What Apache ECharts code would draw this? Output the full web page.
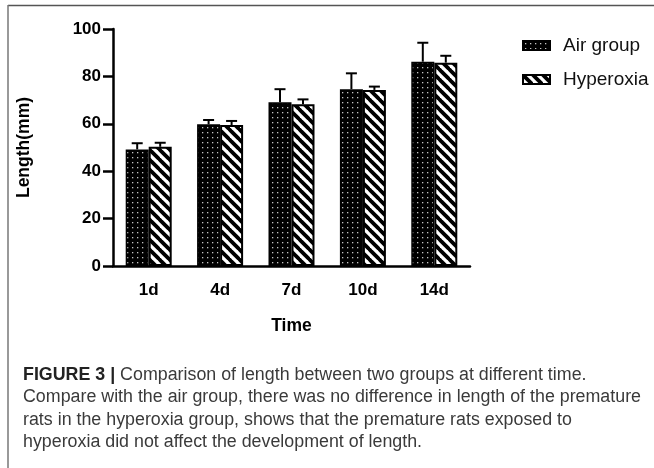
<!DOCTYPE html>
<html>
<head>
<meta charset="utf-8">
<script src="https://cdn.jsdelivr.net/npm/echarts@6/dist/echarts.min.js"></script>
<style>
html,body{margin:0;padding:0;background:#fff;}
#chart{width:654px;height:468px;}
</style>
</head>
<body>
<div id="chart"></div>
<script>
// ---- data ----
const categories = ['1d', '4d', '7d', '10d', '14d'];
const airMean = [49.2, 59.8, 69.1, 74.6, 86.2];
const airSD = [2.6, 1.8, 5.5, 6.7, 8.0];
const hyperMean = [50.3, 59.5, 68.2, 74.3, 85.8];
const hyperSD = [1.7, 1.7, 2.1, 1.4, 2.9];
const seriesNames = ['Air group', 'Hyperoxia'];
const yTicks = { min: 0, max: 100, interval: 20 };
const captionLines = [
  'Comparison of length between two groups at different time.',
  'Compare with the air group, there was no difference in length of the premature',
  'rats in the hyperoxia group, shows that the premature rats exposed to',
  'hyperoxia did not affect the development of length.'
];
const captionLabel = 'FIGURE 3 |';

// ---- patterns ----
function dotPattern() {
  const c = document.createElement('canvas');
  c.width = 5; c.height = 5;
  const g = c.getContext('2d');
  g.fillStyle = '#000'; g.fillRect(0, 0, 5, 5);
  g.fillStyle = '#c4c4c4'; g.fillRect(2, 2, 1.3, 1.3);
  return c;
}
function stripePattern() {
  const P = 10;
  const c = document.createElement('canvas');
  c.width = P; c.height = P;
  const g = c.getContext('2d');
  g.fillStyle = '#fff'; g.fillRect(0, 0, P, P);
  g.strokeStyle = '#000'; g.lineWidth = 3.8;
  for (let k = -1; k <= 1; k++) {
    g.beginPath(); g.moveTo(k * P - 1, -1); g.lineTo(k * P + P + 1, P + 1); g.stroke();
  }
  return c;
}
const airFill = { image: dotPattern(), repeat: 'repeat' };
const hyperFill = { image: stripePattern(), repeat: 'repeat' };

const BAR_W = 23;
const FONT = '"Liberation Sans", Arial, Helvetica, sans-serif';
const CAP_FS = 18;

function errData(mean, sd) {
  return mean.map((m, i) => [i, m, m + sd[i]]);
}
function errRender(offset) {
  return function (params, api) {
    const top = api.coord([api.value(0), api.value(1)]);
    const hi = api.coord([api.value(0), api.value(2)]);
    const x = top[0] + offset;
    const half = 5.5;
    return {
      type: 'group',
      children: [
        { type: 'line', shape: { x1: x, y1: top[1], x2: x, y2: hi[1] }, style: { stroke: '#000', lineWidth: 2 } },
        { type: 'line', shape: { x1: x - half, y1: hi[1], x2: x + half, y2: hi[1] }, style: { stroke: '#000', lineWidth: 2 } }
      ]
    };
  };
}

// caption scale computed from measured text width
const meas = document.createElement('canvas').getContext('2d');
meas.font = CAP_FS + 'px ' + FONT;
const capScale = 618 / meas.measureText(captionLines[1]).width;

const capY0 = 375, capDY = 22.5;
const captionGraphics = captionLines.map((t, i) => ({
  type: 'text',
  x: 23, y: capY0 + i * capDY,
  scaleX: capScale,
  style: i === 0 ? {
    text: '{b|' + captionLabel + '} ' + t,
    rich: { b: { font: 'bold ' + CAP_FS + 'px ' + FONT, fill: '#222' } },
    font: CAP_FS + 'px ' + FONT, fill: '#3a3a3a', verticalAlign: 'middle'
  } : {
    text: t, font: CAP_FS + 'px ' + FONT, fill: '#3a3a3a', verticalAlign: 'middle'
  }
}));

const chart = echarts.init(document.getElementById('chart'), null, { renderer: 'canvas' });
chart.setOption({
  animation: false,
  backgroundColor: '#fff',
  textStyle: { fontFamily: FONT },
  grid: { left: 113, right: 184, top: 29, bottom: 202, containLabel: false },
  legend: {
    orient: 'vertical',
    left: 517, top: 31,
    itemWidth: 27, itemHeight: 9,
    itemGap: 15,
    icon: 'rect',
    textStyle: { fontSize: 19, color: '#111', padding: [0, 0, 0, 8], fontFamily: FONT },
    data: seriesNames
  },
  xAxis: {
    type: 'category',
    data: categories,
    name: 'Time',
    nameLocation: 'middle',
    nameGap: 51,
    nameTextStyle: { fontSize: 17.5, fontWeight: 'bold', color: '#000' },
    axisLine: { lineStyle: { color: '#000', width: 2.5 } },
    axisTick: { alignWithLabel: true, length: 9, lineStyle: { color: '#000', width: 2.5 } },
    axisLabel: { fontSize: 17, fontWeight: 'bold', color: '#000', margin: 16 }
  },
  yAxis: {
    type: 'value',
    min: yTicks.min, max: yTicks.max, interval: yTicks.interval,
    name: 'Length(mm)',
    nameLocation: 'middle',
    nameGap: 80,
    nameTextStyle: { fontSize: 17.5, fontWeight: 'bold', color: '#000' },
    axisLine: { show: true, lineStyle: { color: '#000', width: 2.5 } },
    axisTick: { show: true, length: 10, lineStyle: { color: '#000', width: 2.5 } },
    axisLabel: { fontSize: 17, fontWeight: 'bold', color: '#000', margin: 12 },
    splitLine: { show: false }
  },
  series: [
    {
      name: seriesNames[0], type: 'bar', data: airMean,
      barWidth: BAR_W, barGap: '0%',
      itemStyle: { color: airFill, borderColor: '#000', borderWidth: 1.5 },
      z: 2
    },
    {
      name: seriesNames[1], type: 'bar', data: hyperMean,
      barWidth: BAR_W, barGap: '0%',
      itemStyle: { color: hyperFill, borderColor: '#000', borderWidth: 2 },
      z: 2
    },
    {
      type: 'custom', name: 'airErr', data: errData(airMean, airSD),
      encode: { x: 0, y: [1, 2] }, renderItem: errRender(-BAR_W / 2), z: 3, silent: true
    },
    {
      type: 'custom', name: 'hyperErr', data: errData(hyperMean, hyperSD),
      encode: { x: 0, y: [1, 2] }, renderItem: errRender(BAR_W / 2), z: 3, silent: true
    }
  ],
  graphic: [
    { type: 'line', shape: { x1: 8, y1: 5.5, x2: 654, y2: 5.5 }, style: { stroke: '#555', lineWidth: 1.5 } },
    { type: 'line', shape: { x1: 8, y1: 5, x2: 8, y2: 468 }, style: { stroke: '#777', lineWidth: 1.5 } }
  ].concat(captionGraphics)
});
</script>
</body>
</html>
